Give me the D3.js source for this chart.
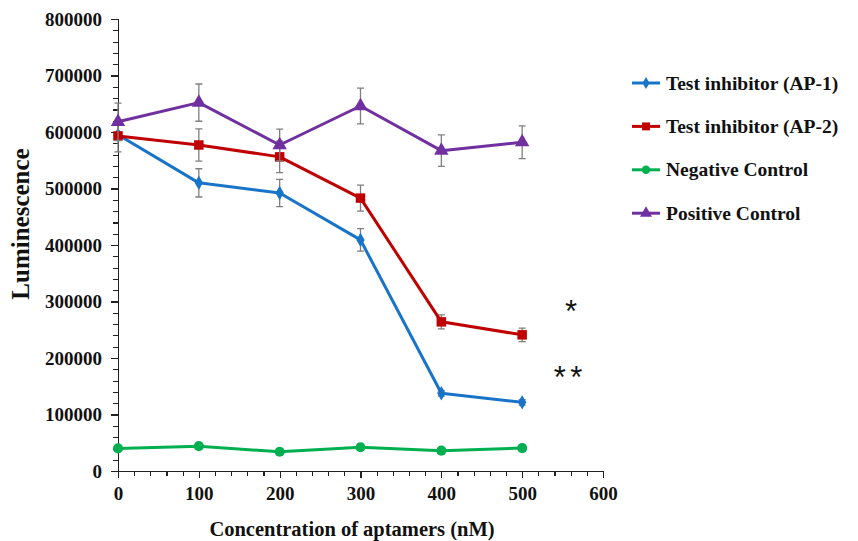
<!DOCTYPE html>
<html>
<head>
<meta charset="utf-8">
<title>Luminescence vs aptamer concentration</title>
<script src="https://d3js.org/d3.v7.min.js"></script>
<style>
  body { margin: 0; background: #fff; }
  svg { display: block; }
  .axis path, .axis line { stroke: #222; stroke-width: 1.2px; shape-rendering: crispEdges; }
  .axis text { font-family: "Liberation Serif", "Times New Roman", serif; font-weight: bold; font-size: 19px; fill: #111; }
  .title { font-family: "Liberation Serif", "Times New Roman", serif; font-weight: bold; fill: #111; }
  .legend text { font-family: "Liberation Serif", "Times New Roman", serif; font-weight: bold; font-size: 19.5px; fill: #111; }
  .star { font-family: "Liberation Sans", Arial, sans-serif; font-size: 31px; fill: #111; }
  .err { stroke: #7f7f7f; stroke-width: 1.3px; fill: none; }
</style>
</head>
<body>
<svg id="chart" width="858" height="541"></svg>
<script>
// concentrations (nM)
const concentrations = [0, 100, 200, 300, 400, 500];

// luminescence values
const ap1 = [595000, 510000, 492000, 409000, 137500, 121500];
const ap1Err = [5000, 25000, 24000, 20000, 5000, 5000];

const ap2 = [593000, 577000, 556000, 483000, 264000, 241000];
const ap2Err = [28000, 28500, 28000, 23000, 12500, 12000];

const negative = [40000, 44000, 34000, 42000, 36000, 40500];
const negativeErr = [0, 0, 0, 0, 0, 0];

const positive = [618000, 652000, 577000, 646000, 567000, 582000];
const positiveErr = [33000, 33000, 28000, 31500, 28000, 29000];

const seriesNames = ["Test inhibitor (AP-1)", "Test inhibitor (AP-2)", "Negative Control", "Positive Control"];

const xTicks = [0, 100, 200, 300, 400, 500, 600];
const yTicks = [0, 100000, 200000, 300000, 400000, 500000, 600000, 700000, 800000];

const series = [
  {name: seriesNames[0], values: ap1, err: ap1Err, color: "#1874c8", mark: d3.symbolDiamond, size: 60},
  {name: seriesNames[1], values: ap2, err: ap2Err, color: "#c00000", mark: d3.symbolSquare, size: 90},
  {name: seriesNames[2], values: negative, err: negativeErr, color: "#00b050", mark: d3.symbolCircle, size: 80},
  {name: seriesNames[3], values: positive, err: positiveErr, color: "#7030a0", mark: d3.symbolTriangle, size: 90}
];

const svg = d3.select("#chart");
svg.append("rect").attr("width", 858).attr("height", 541).attr("fill", "#fff");

const x = d3.scaleLinear().domain([0, 600]).range([118, 603]);
const y = d3.scaleLinear().domain([0, 800000]).range([471, 19]);

// minor ticks
svg.append("g")
  .attr("class", "axis")
  .attr("transform", "translate(118,0)")
  .call(d3.axisLeft(y).tickValues(d3.range(0, 800001, 20000)).tickSize(5).tickFormat(""));
svg.append("g")
  .attr("class", "axis")
  .attr("transform", "translate(0,471)")
  .call(d3.axisBottom(x).tickValues(d3.range(0, 601, 20)).tickSize(5).tickFormat(""));

// major axes
svg.append("g")
  .attr("class", "axis")
  .attr("transform", "translate(118,0)")
  .call(d3.axisLeft(y).tickValues(yTicks).tickSize(7).tickSizeOuter(0).tickPadding(9).tickFormat(d3.format("d")));
svg.append("g")
  .attr("class", "axis")
  .attr("transform", "translate(0,471)")
  .call(d3.axisBottom(x).tickValues(xTicks).tickSize(7).tickSizeOuter(0).tickPadding(9));

// axis titles
svg.append("text")
  .attr("class", "title")
  .attr("font-size", 25)
  .attr("transform", "translate(29,224) rotate(-90)")
  .attr("text-anchor", "middle")
  .text("Luminescence");
svg.append("text")
  .attr("class", "title")
  .attr("font-size", 20.5)
  .attr("x", 352).attr("y", 536)
  .attr("text-anchor", "middle")
  .text("Concentration of aptamers (nM)");

const line = d3.line()
  .x((d, i) => x(concentrations[i]))
  .y(d => y(d));

series.forEach(function(s) {
  const g = svg.append("g");
  // error bars
  s.values.forEach(function(v, i) {
    if (!s.err[i]) return;
    const cx = x(concentrations[i]);
    const top = y(v + s.err[i]), bot = y(v - s.err[i]);
    g.append("path").attr("class", "err")
      .attr("d", `M${cx},${top}V${bot}M${cx - 3.5},${top}H${cx + 3.5}M${cx - 3.5},${bot}H${cx + 3.5}`);
  });
  g.append("path")
    .attr("d", line(s.values))
    .attr("fill", "none")
    .attr("stroke", s.color)
    .attr("stroke-width", 3)
    .attr("stroke-linejoin", "round");
  g.selectAll("path.mark")
    .data(s.values)
    .join("path")
    .attr("class", "mark")
    .attr("transform", (d, i) => `translate(${x(concentrations[i])},${y(d)})`)
    .attr("d", d3.symbol().type(s.mark).size(s.size))
    .attr("fill", s.color);
});

// significance marks
svg.append("text").attr("class", "star").attr("x", 571).attr("y", 322).attr("text-anchor", "middle").text("*");
svg.append("text").attr("class", "star").attr("x", 567).attr("y", 388).attr("text-anchor", "middle")
  .attr("letter-spacing", "-2").text("* *");

// legend
const legend = svg.append("g").attr("class", "legend");
series.forEach(function(s, i) {
  const ly = 83 + i * 43.4;
  legend.append("line")
    .attr("x1", 632).attr("x2", 660).attr("y1", ly).attr("y2", ly)
    .attr("stroke", s.color).attr("stroke-width", 3);
  legend.append("path")
    .attr("transform", `translate(646,${ly})`)
    .attr("d", d3.symbol().type(s.mark).size(s.size * 0.7))
    .attr("fill", s.color);
  legend.append("text")
    .attr("x", 666).attr("y", ly + 6.5)
    .text(s.name);
});
</script>
</body>
</html>
